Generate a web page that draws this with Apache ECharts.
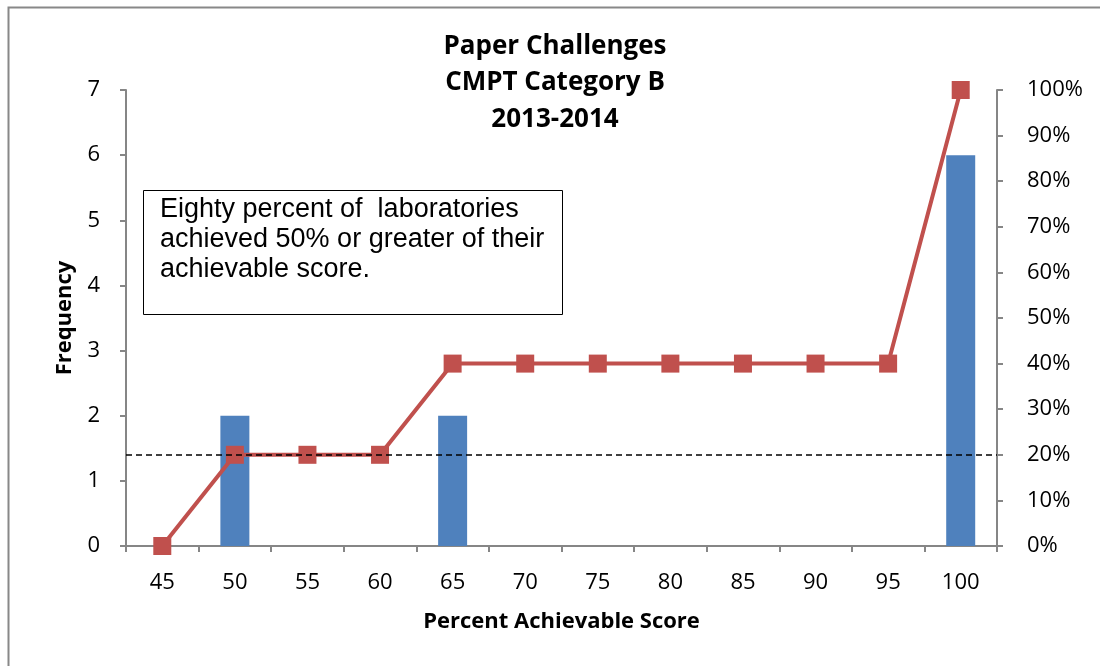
<!DOCTYPE html>
<html>
<head>
<meta charset="utf-8">
<script src="https://cdn.jsdelivr.net/npm/echarts@6/dist/echarts.min.js"></script>
<style>
html,body{margin:0;padding:0;background:#fff;}
#chart{width:1100px;height:666px;}
</style>
</head>
<body>
<div id="chart"></div>
<script>
const titleLines = ['Paper Challenges', 'CMPT Category B', '2013-2014'];
const categories = ['45','50','55','60','65','70','75','80','85','90','95','100'];
const frequency = [0, 2, 0, 0, 2, 0, 0, 0, 0, 0, 0, 6];
const cumulativePct = [0, 20, 20, 20, 40, 40, 40, 40, 40, 40, 40, 100];
const thresholdPct = 20;
const noteLines = ['Eighty percent of  laboratories', 'achieved 50% or greater of their', 'achievable score.'];
const xAxisTitle = 'Percent Achievable Score';
const yAxisTitle = 'Frequency';

const axisGray = '#868686';
const FONT = 'Open Sans';
const chart = echarts.init(document.getElementById('chart'), null, {renderer: 'canvas'});
chart.setOption({
  backgroundColor: '#ffffff',
  animation: false,
  title: {
    text: titleLines.join('\n'),
    left: 550, top: 23, textAlign: 'center',
    textStyle: {fontFamily: FONT, fontWeight: 'bold', fontSize: 26, lineHeight: 36.5, color: '#000'}
  },
  grid: {left: 126, right: 103, top: 90, bottom: 120, containLabel: false},
  xAxis: {
    type: 'category', data: categories, boundaryGap: true,
    name: xAxisTitle, nameLocation: 'middle', nameGap: 65,
    nameTextStyle: {fontFamily: FONT, fontWeight: 'bold', fontSize: 22, color: '#000'},
    axisLine: {lineStyle: {color: axisGray, width: 2}},
    axisTick: {show: true, alignWithLabel: false, length: 6, lineStyle: {color: axisGray, width: 2}},
    axisLabel: {fontFamily: FONT, fontSize: 22, color: '#000', margin: 26},
    splitLine: {show: false}
  },
  yAxis: [{
    type: 'value', min: 0, max: 7, interval: 1, position: 'left',
    name: yAxisTitle, nameLocation: 'middle', nameGap: 50, nameRotate: 90,
    nameTextStyle: {fontFamily: FONT, fontWeight: 'bold', fontSize: 22, color: '#000'},
    axisLine: {show: true, lineStyle: {color: axisGray, width: 2}},
    axisTick: {show: true, length: 6, lineStyle: {color: axisGray, width: 2}},
    axisLabel: {fontFamily: FONT, fontSize: 22, color: '#000', margin: 26},
    splitLine: {show: false}
  }, {
    type: 'value', min: 0, max: 100, interval: 10, position: 'right',
    axisLine: {show: true, lineStyle: {color: axisGray, width: 2}},
    axisTick: {show: true, length: 6, lineStyle: {color: axisGray, width: 2}},
    axisLabel: {fontFamily: FONT, fontSize: 22, color: '#000', margin: 30, formatter: '{value}%'},
    splitLine: {show: false}
  }],
  series: [{
    type: 'bar', yAxisIndex: 0, data: frequency, barWidth: 29,
    itemStyle: {color: '#4F81BD'}, z: 2
  }, {
    type: 'line', yAxisIndex: 1, data: cumulativePct,
    symbol: 'rect', symbolSize: 18, showAllSymbol: true,
    lineStyle: {color: '#C0504D', width: 4},
    itemStyle: {color: '#C0504D'}, z: 3,
    markLine: {
      silent: true, symbol: 'none', label: {show: false},
      lineStyle: {color: '#000', type: [6, 4], width: 1.5},
      data: [{yAxis: thresholdPct}], z: 4
    }
  }],
  graphic: [{
    type: 'rect', left: 6, top: 5, z: 0,
    shape: {x: 0, y: 0, width: 1120, height: 700},
    style: {fill: 'none', stroke: '#888888', lineWidth: 2}
  }, {
    type: 'rect', left: 143, top: 190, z: 10,
    shape: {x: 0, y: 0, width: 419, height: 124},
    style: {fill: '#fff', stroke: '#000', lineWidth: 1}
  }, {
    type: 'text', left: 160, top: 195, z: 11,
    style: {text: noteLines.join('\n'), fontFamily: 'Liberation Sans', fontSize: 27, lineHeight: 30, fill: '#000'}
  }]
});
</script>
</body>
</html>
